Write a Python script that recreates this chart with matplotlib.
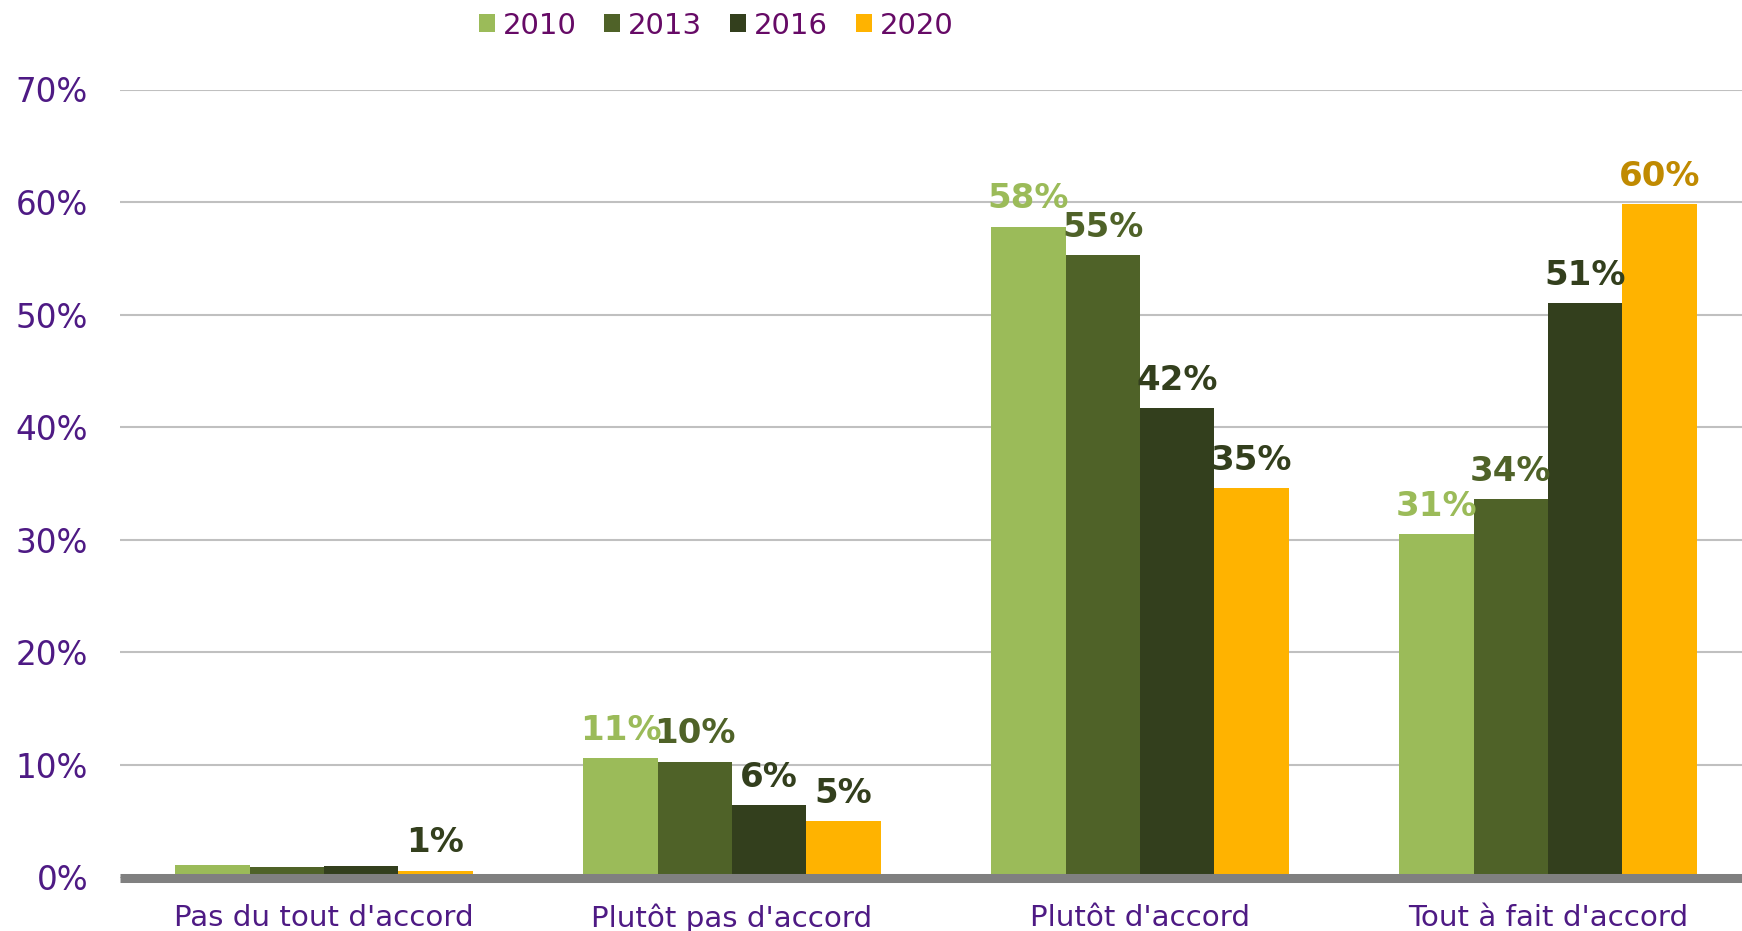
"""
Répartition des réponses par année (2010, 2013, 2016, 2020) — barres groupées.
"""

import numpy as np
import matplotlib
matplotlib.use("Agg")
import matplotlib.pyplot as plt
from matplotlib.patches import Patch

# ─── Données ──────────────────────────────────────────────────────────────────
categories = ["Pas du tout d'accord", "Plutôt pas d'accord",
              "Plutôt d'accord", "Tout à fait d'accord"]
years = ["2010", "2013", "2016", "2020"]

v2010 = [0.011, 0.106, 0.578, 0.305]
v2013 = [0.009, 0.103, 0.553, 0.336]
v2016 = [0.010, 0.064, 0.417, 0.510]
v2020 = [0.006, 0.050, 0.346, 0.598]

# étiquettes affichées (None = pas d'étiquette)
lab2010 = [None, "11%", "58%", "31%"]
lab2013 = [None, "10%", "55%", "34%"]
lab2016 = [None, "6%", "42%", "51%"]
lab2020 = ["1%", "5%", "35%", "60%"]

yticks = [0, 0.1, 0.2, 0.3, 0.4, 0.5, 0.6, 0.7]
ytick_labels = ["0%", "10%", "20%", "30%", "40%", "50%", "60%", "70%"]

# ─── Style ────────────────────────────────────────────────────────────────────
bar_colors = ["#9bbb59", "#4f6228", "#333f1d", "#ffb300"]
dark = "#333f1d"
label_colors = [
    ["#9bbb59"] * 4,
    ["#4f6228"] * 4,
    [dark] * 4,
    [dark, dark, dark, "#c08a00"],
]
purple = "#4e1a84"
legend_purple = "#660a66"

plt.rcParams['font.family'] = ['DejaVu Sans']

fig = plt.figure(figsize=(17.42, 9.31), dpi=100)
ax = fig.add_axes([120 / 1742, 53.5 / 931, 1632 / 1742, 788 / 931])

series = [v2010, v2013, v2016, v2020]
labels = [lab2010, lab2013, lab2016, lab2020]
x = np.arange(len(categories))
bw = 0.182

for i, (vals, labs) in enumerate(zip(series, labels)):
    pos = x + (i - 1.5) * bw
    ax.bar(pos, vals, width=bw, color=bar_colors[i], edgecolor="none",
           label=years[i], zorder=2)
    for j, (p, v, t) in enumerate(zip(pos, vals, labs)):
        if t is None:
            continue
        ax.annotate(t, (p, v), xytext=(0, 13.3), textcoords="offset points",
                    ha="center", va="baseline", fontsize=24.5,
                    fontweight="bold", color=label_colors[i][j], zorder=3)

ax.set_xlim(-0.5, 3.5)
ax.set_ylim(0, 0.7)
ax.set_yticks(yticks)
ax.set_yticklabels(ytick_labels)
ax.set_xticks(x)
ax.set_xticklabels(categories)

ax.tick_params(axis="y", length=0, pad=23, labelsize=23.5, labelcolor=purple)
ax.tick_params(axis="x", length=0, pad=19, labelsize=21.2, labelcolor=purple)

ax.set_axisbelow(True)
ax.yaxis.grid(True, color="#c0c0c0", linewidth=1.5)
for s in ["top", "right", "left"]:
    ax.spines[s].set_visible(False)
ax.spines["bottom"].set_color("#808080")
ax.spines["bottom"].set_linewidth(6.5)
ax.spines["bottom"].set_capstyle("butt")
ax.spines["bottom"].set_zorder(4)

handles = [Patch(facecolor=c, edgecolor="none") for c in bar_colors]
leg = fig.legend(handles, years, loc="center", bbox_to_anchor=(0.4112, 0.9725),
                 ncol=4, frameon=False, fontsize=21, handlelength=0.55,
                 handleheight=0.55, handletextpad=0.27, columnspacing=0.96,
                 borderpad=0, borderaxespad=0)
for t in leg.get_texts():
    t.set_color(legend_purple)

fig.savefig("out.png", dpi=100)
